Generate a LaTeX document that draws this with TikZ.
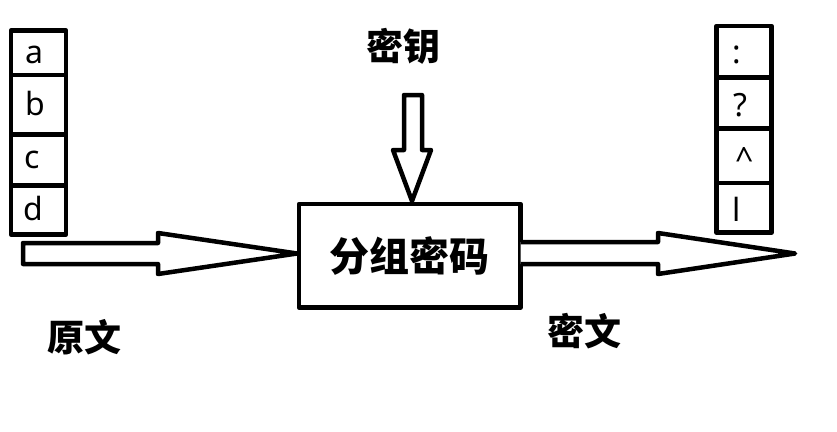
\documentclass[tikz,border=0pt]{standalone}
\usepackage{fontspec}
\newfontfamily\cjk{Noto Sans CJK SC}
\newfontfamily\lat{Noto Sans}
\begin{document}
\begin{tikzpicture}[x=1pt,y=-1pt,
  thick line/.style={line width=4.5pt, line join=round},
  cell/.style={draw, thick line, minimum width=55pt, inner sep=0pt, outer sep=0pt, anchor=north west},
  letter/.style={inner sep=0pt, anchor=base, font=\lat\fontsize{32}{38}\selectfont},
  label/.style={inner sep=0pt, font=\cjk\bfseries\fontsize{37}{44}\selectfont},
  mainbox/.style={draw, thick line, minimum width=221.5pt, minimum height=103.5pt, inner sep=0pt, outer sep=0pt, font=\cjk\bfseries\fontsize{40}{48}\selectfont},
  blockarrow/.style={draw, thick line, fill=white}]
\useasboundingbox (0,0) rectangle (837,431);
% left column (plaintext)
\node[cell, minimum height=44.5pt] (la) at (11,30.5) {};
\node[cell, minimum height=59.5pt] (lb) at (11,75) {};
\node[cell, minimum height=51pt] (lc) at (11,134.5) {};
\node[cell, minimum height=49pt] (ld) at (11,185.5) {};
\node[letter] (ta) at (34.2,63.3) {a};
\node[letter] (tb) at (35,115) {b};
\node[letter] (tc) at (32.5,168.3) {c};
\node[letter] (td) at (33.5,220) {d};
% right column (ciphertext)
\node[cell, minimum height=51.5pt] (ra) at (716.5,26) {};
\node[cell, minimum height=51pt] (rb) at (716.5,77.5) {};
\node[cell, minimum height=54.5pt] (rc) at (716.5,128.5) {};
\node[cell, minimum height=49.5pt] (rd) at (716.5,183) {};
\node[letter] (sa) at (736.8,63.3) {:};
\node[letter] (sb) at (740.3,116.7) {?};
\node[letter] (sc) at (745,170) {\char`\^};
\node[letter] (sd) at (736.7,221.7) {l};
% main box
\node[mainbox] (cipher) at (409.75,255.75) {分组密码};
% key arrow
\node[label] (key) at (403,46.5) {密钥};
\coordinate (keytip) at ([yshift=3pt]cipher.north -| 412,0);
\draw[blockarrow] (404,95) -- (422,95) -- (422,150) -- (431,150) -- (keytip)
  -- (393,150) -- (404,150) -- cycle;
% plaintext arrow
\coordinate (ptip) at ([xshift=-2pt]cipher.west |- 0,253.5);
\draw[blockarrow] (23,243) -- (158,243) -- (158,233) -- (ptip)
  -- (158,274) -- (158,264) -- (23,264) -- cycle;
% ciphertext arrow
\coordinate (ctip) at (795,253.5);
\draw[blockarrow] (cipher.east |- 0,242) -- (658,242) -- (658,233) -- (ctip) -- (658,274) -- (658,264) -- (cipher.east |- 0,264);
% labels
\node[label] (plain) at (84,337) {原文};
\node[label] (ctext) at (584,331.5) {密文};
\end{tikzpicture}
\end{document}
